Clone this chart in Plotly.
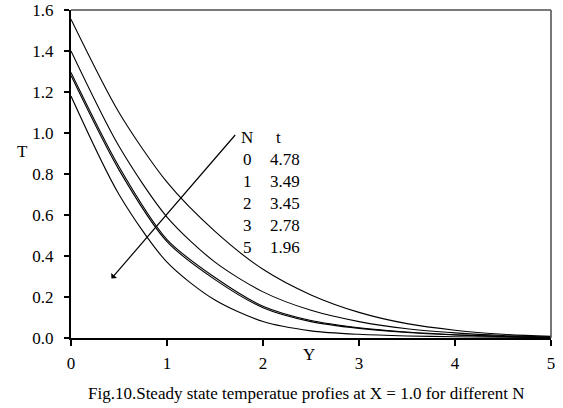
import plotly.graph_objects as go

# ---- data ----
Y_POS = [0, 0.5, 1, 1.5, 2, 2.5, 3, 3.5, 4, 4.5, 5]
T_N0 = [1.555, 1.10, 0.76, 0.52, 0.335, 0.21, 0.125, 0.07, 0.038, 0.018, 0.008]
T_N1 = [1.40, 0.935, 0.59, 0.37, 0.225, 0.135, 0.08, 0.045, 0.025, 0.012, 0.005]
T_N2 = [1.295, 0.835, 0.48, 0.295, 0.155, 0.085, 0.05, 0.029, 0.016, 0.008, 0.003]
T_N3 = [1.28, 0.82, 0.47, 0.285, 0.148, 0.08, 0.047, 0.027, 0.015, 0.007, 0.003]
T_N5 = [1.18, 0.70, 0.37, 0.185, 0.08, 0.035, 0.018, 0.01, 0.006, 0.004, 0.002]
SERIES = [T_N0, T_N1, T_N2, T_N3, T_N5]
N_LABELS = ["0", "1", "2", "3", "5"]
t_LABELS = ["4.78", "3.49", "3.45", "2.78", "1.96"]
X_TICKS = [0, 1, 2, 3, 4, 5]
Y_TICKS = [0.0, 0.2, 0.4, 0.6, 0.8, 1.0, 1.2, 1.4, 1.6]
CAPTION = "Fig.10.Steady state temperatue profies at X = 1.0 for different N"

W, H = 563, 408
# plot area in page pixels: left 71, top 10, right 551, bottom 338
SL, ST, SR, SB = 71, 10, 551, 338
ML, MT, MR, MB = SL, ST, W - SR, H - SB
PW, PH = SR - SL, SB - ST


def px(x):
    return (x - SL) / PW


def py(y):
    return (SB - y) / PH


FONT = "Liberation Serif, Times New Roman, serif"
FS = 17


def label(text, x, y, xanchor="center", size=FS):
    return dict(text=text, x=px(x), y=py(y), xref="paper", yref="paper",
                showarrow=False, xanchor=xanchor, yanchor="middle",
                font=dict(size=size))


fig = go.Figure()
for n, vals in zip(N_LABELS, SERIES):
    fig.add_trace(go.Scatter(
        x=Y_POS, y=vals, mode="lines", name="N = " + n,
        line=dict(color="black", width=1.1, shape="spline", smoothing=0.8),
        showlegend=False, hoverinfo="skip"))

ann = [
    label("T", 22, 151),
    label("Y", 309, 354),
    label(CAPTION, 306, 393),
    label("N", 247, 137),
    label("t", 274, 137, xanchor="left"),
]
for i, (n, t) in enumerate(zip(N_LABELS, t_LABELS)):
    yy = 159.5 + 22 * i
    ann.append(label(n, 247, yy))
    ann.append(label(t, 268, yy, xanchor="left"))
# arrow
ann.append(dict(text="", x=px(111.5), y=py(278.5), xref="paper", yref="paper",
                showarrow=True, arrowhead=1, arrowsize=1.1, arrowwidth=1.2,
                arrowcolor="black", ax=125, ay=-145))

fig.update_layout(
    width=W, height=H,
    margin=dict(l=ML, r=MR, t=MT, b=MB, autoexpand=False),
    paper_bgcolor="white", plot_bgcolor="white",
    font=dict(family=FONT, size=FS, color="black"),
    annotations=ann,
    shapes=[
        dict(type="line", xref="paper", yref="paper", x0=0, x1=1, y0=1, y1=1,
             line=dict(color="#7a7a7a", width=2)),
        dict(type="line", xref="paper", yref="paper", x0=1, x1=1, y0=0, y1=1,
             line=dict(color="#555555", width=1.6)),
    ],
)
fig.update_xaxes(range=[0, 5], tickvals=X_TICKS, ticktext=[str(v) for v in X_TICKS],
                 showgrid=False, zeroline=False, showline=True, linecolor="black",
                 linewidth=2, ticks="outside", ticklen=6, tickcolor="black",
                 tickwidth=1.5, ticklabelstandoff=3, automargin=False,
                 ticklabeloverflow="allow", tickfont=dict(size=FS))
fig.update_yaxes(range=[0, 1.6], tickvals=Y_TICKS, ticktext=["%.1f" % v for v in Y_TICKS],
                 showgrid=False, zeroline=False, showline=True, linecolor="black",
                 linewidth=2, ticks="outside", ticklen=5, tickcolor="black",
                 tickwidth=1.5, ticklabelstandoff=7, automargin=False,
                 ticklabeloverflow="allow", tickfont=dict(size=FS))

# remove the browser's default 8px page margin so the figure sits at (0, 0)
fig.write_html("out.html", config={"displayModeBar": False},
               post_script="document.body.style.margin='0';")
